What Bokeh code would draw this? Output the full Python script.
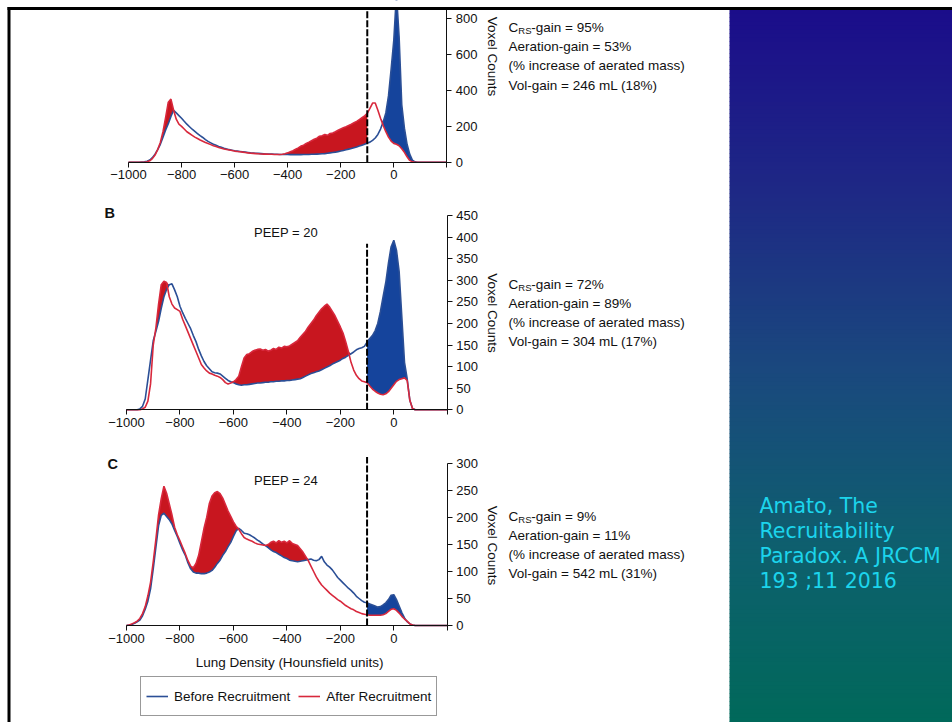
import numpy as np
from bokeh.plotting import figure
from bokeh.models import Range1d, LinearAxis, FixedTicker, Legend, LegendItem
from bokeh.core.properties import value
from bokeh.embed import file_html
from bokeh.resources import INLINE

# ---------------- data (lung density histograms, voxel counts per 10 HU bin) ----------------
hu = list(range(-1000, 201, 10))

before_a = [0, 0, 0, 0, 0, 1, 2, 5, 12, 25,
            45, 70, 100, 140, 180, 215, 255, 290, 275, 260,
            245, 228, 212, 198, 184, 172, 160, 148, 138, 126,
            116, 108, 100, 94, 88, 83, 78, 74, 70, 67,
            64, 62, 60, 58, 56, 54, 52, 51, 50, 49,
            48, 47, 46, 45, 45, 44, 44, 43, 43, 43,
            43, 42, 42, 42, 42, 42, 43, 43, 43, 44,
            44, 45, 46, 47, 48, 50, 52, 54, 56, 59,
            62, 65, 69, 73, 77, 81, 85, 90, 95, 100,
            107, 112, 122, 135, 155, 185, 225, 275, 370, 520,
            680, 940, 700, 320, 190, 100, 45, 12, 2, 0,
            0, 0, 0, 0, 0, 0, 0, 0, 0, 0,
            0]
after_a = [0, 0, 0, 0, 0, 0, 0, 2, 8, 20,
           40, 70, 110, 170, 250, 335, 352, 290, 240, 212,
           200, 185, 170, 160, 150, 140, 132, 124, 117, 110,
           104, 98, 92, 87, 82, 78, 74, 71, 68, 65,
           62, 60, 58, 56, 54, 52, 50, 49, 48, 47,
           46, 45, 45, 44, 44, 43, 43, 43, 44, 47,
           52, 58, 64, 72, 80, 90, 95, 105, 112, 120,
           128, 134, 145, 148, 155, 150, 160, 163, 170, 178,
           185, 192, 198, 205, 212, 220, 228, 238, 248, 258,
           272, 300, 330, 330, 290, 245, 205, 170, 140, 118,
           105, 100, 92, 75, 55, 30, 10, 2, 0, 0,
           0, 0, 0, 0, 0, 0, 0, 0, 0, 0,
           0]
before_b = [0, 0, 0, 0, 0, 2, 8, 25, 70, 115,
            160, 182, 205, 235, 262, 279, 290, 292, 278, 262,
            240, 225, 212, 200, 188, 172, 158, 140, 125, 112,
            102, 95, 88, 86, 85, 83, 78, 73, 68, 65,
            63, 60, 58, 57, 58, 58, 59, 60, 61, 62,
            62, 63, 64, 64, 65, 65, 66, 66, 67, 67,
            68, 68, 69, 70, 71, 72, 75, 78, 81, 84,
            86, 88, 90, 93, 96, 99, 102, 106, 109, 112,
            115, 119, 122, 126, 130, 134, 139, 142, 144, 147,
            157, 165, 172, 183, 200, 228, 262, 295, 340, 378,
            393, 370, 320, 215, 110, 72, 22, 3, 0, 0,
            0, 0, 0, 0, 0, 0, 0, 0, 0, 0,
            0]
after_b = [0, 0, 0, 0, 0, 0, 2, 6, 20, 60,
           150, 190, 245, 290, 298, 295, 262, 245, 236, 232,
           228, 210, 195, 180, 165, 150, 135, 120, 105, 97,
           90, 85, 83, 80, 78, 75, 70, 63, 60, 62,
           65, 70, 78, 100, 120, 128, 130, 135, 138, 140,
           141, 138, 140, 136, 138, 142, 140, 145, 143, 147,
           146, 148, 152, 156, 160, 168, 175, 182, 192, 200,
           208, 218, 226, 234, 240, 245, 238, 228, 218, 205,
           192, 178, 158, 135, 110, 92, 80, 72, 67, 65,
           63, 55, 48, 43, 39, 36, 35, 37, 42, 50,
           58, 66, 70, 72, 74, 68, 22, 3, 0, 0,
           0, 0, 0, 0, 0, 0, 0, 0, 0, 0,
           0]
before_c = [0, 1, 2, 4, 7, 10, 18, 30, 45, 68,
            105, 145, 185, 204, 208, 202, 196, 188, 176, 165,
            152, 140, 130, 116, 105, 99, 97, 97, 96, 96,
            97, 99, 102, 108, 115, 121, 130, 137, 146, 154,
            165, 175, 180, 176, 171, 170, 168, 165, 162, 158,
            155, 151, 148, 144, 140, 137, 135, 132, 129, 126,
            124, 121, 120, 119, 118, 119, 120, 121, 122, 123,
            121, 120, 122, 128, 118, 112, 108, 103, 96, 89,
            84, 79, 74, 69, 65, 60, 54, 50, 46, 43,
            42, 40, 38, 36, 34, 35, 38, 42, 48, 56,
            57, 48, 36, 24, 14, 7, 3, 1, 0, 0,
            0, 0, 0, 0, 0, 0, 0, 0, 0, 0,
            0]
after_c = [0, 1, 3, 5, 8, 13, 22, 35, 55, 80,
           118, 160, 205, 235, 258, 245, 225, 205, 182, 168,
           157, 145, 133, 120, 110, 107, 115, 130, 155, 180,
           200, 226, 240, 246, 248, 244, 236, 224, 212, 202,
           192, 184, 178, 170, 163, 160, 158, 156, 153, 151,
           150, 149, 148, 150, 154, 156, 153, 157, 154, 156,
           153, 157, 152, 150, 148, 142, 136, 128, 120, 110,
           100, 90, 82, 75, 70, 65, 60, 56, 52, 48,
           45, 41, 37, 34, 31, 29, 26, 24, 22, 21,
           20, 19, 19, 19, 19, 19, 20, 22, 26, 30,
           31, 28, 23, 17, 12, 8, 3, 1, 0, 0,
           0, 0, 0, 0, 0, 0, 0, 0, 0, 0,
           0]

threshold_hu = -100
x_ticks = [-1000, -800, -600, -400, -200, 0, 200]
x_tick_labels = ["\u22121000", "\u2212800", "\u2212600", "\u2212400", "\u2212200", "0", ""]
y_ticks_a = [0, 200, 400, 600, 800]
y_ticks_b = [0, 50, 100, 150, 200, 250, 300, 350, 400, 450]
y_ticks_c = [0, 50, 100, 150, 200, 250, 300]
crs_gain = ["95%", "72%", "9%"]
aeration_gain = ["53%", "89%", "11%"]
vol_gain = ["246 mL (18%)", "304 mL (17%)", "542 mL (31%)"]
panel_letters = [None, "B", "C"]
peep_labels = [None, "PEEP = 20", "PEEP = 24"]
legend_labels = ["Before Recruitment", "After Recruitment"]
x_title = "Lung Density  (Hounsfield units)"
y_title = "Voxel Counts"
citation = ["Amato, The", "Recruitability", "Paradox. A JRCCM", "193 ;11 2016"]

# ---------------- styles / layout ----------------
W, H = 952, 722
FONT = "Liberation Sans"
BLUE_LINE = "#2b4f96"
RED_LINE = "#d8283c"
BLUE_FILL = "#15449c"
RED_FILL = "#c8161f"
INK = "#111111"

panels = [
    dict(series=(before_a, after_a), yticks=y_ticks_a, x0=393.3, sx=0.2653, y0=161.7, sy=0.17925,
         ytop=862, dash_top=862, text_y=27.2, voxel_y=56, letter_xy=None, peep_y=None),
    dict(series=(before_b, after_b), yticks=y_ticks_b, x0=393.3, sx=0.2673, y0=409.3, sy=0.4315,
         ytop=450, dash_top=385, text_y=284, voxel_y=312.5, letter_xy=(104, 212.5), peep_y=231.5),
    dict(series=(before_c, after_c), yticks=y_ticks_c, x0=393.3, sx=0.2673, y0=625.0, sy=0.54,
         ytop=300, dash_top=312, text_y=516, voxel_y=545, letter_xy=(107, 463), peep_y=480),
]

p = figure(width=W, height=H, x_range=Range1d(0, W), y_range=Range1d(H, 0),
           x_axis_type=None, y_axis_type=None, toolbar_location=None,
           output_backend="svg", min_border=0, outline_line_color=None,
           background_fill_color="white", border_fill_color="white")
p.min_border_left = p.min_border_right = p.min_border_top = p.min_border_bottom = 0


def txt(x, y, s, size="13.5px", bold=False, align="left", baseline="middle",
        color=INK, angle=0.0, font=FONT):
    p.text(x=[x], y=[y], text=[s], text_font=value(font), text_font_size=size,
           text_font_style="bold" if bold else "normal", text_align=align,
           text_baseline=baseline, text_color=color, angle=angle)


# ---------------- right gradient panel ----------------
stops = [(0.0, (27, 13, 138)), (0.25, (30, 40, 133)), (0.5, (26, 72, 126)),
         (0.75, (14, 95, 110)), (1.0, (0, 105, 90))]


def grad(t):
    for (t0, c0), (t1, c1) in zip(stops[:-1], stops[1:]):
        if t <= t1:
            f = (t - t0) / (t1 - t0)
            return "#%02x%02x%02x" % tuple(int(round(a + (b - a) * f)) for a, b in zip(c0, c1))
    return "#%02x%02x%02x" % stops[-1][1]


band_top = np.arange(9.0, H, 4.0)
band_col = [grad((y - 9.0) / (H - 9.0)) for y in band_top]
p.quad(left=729, right=W, top=band_top, bottom=band_top + 4.6, fill_color=band_col, line_color=None)
for i, line in enumerate(citation):
    txt(759, 505 + 25 * i, line, size="20.5px", color="#1cd4ec", font="DejaVu Sans")

# ---------------- panels ----------------
x_arr = np.array(hu, dtype=float)
legend_renderers = None
for k, (pan, letter, peep, crs, aer, vol) in enumerate(
        zip(panels, panel_letters, peep_labels, crs_gain, aeration_gain, vol_gain)):
    xr, yr = f"x{k}", f"y{k}"
    x0, sx, y0, sy = pan["x0"], pan["sx"], pan["y0"], pan["sy"]
    p.extra_x_ranges[xr] = Range1d(-x0 / sx, (W - x0) / sx)
    p.extra_y_ranges[yr] = Range1d((y0 - H) / sy, y0 / sy)
    kw = dict(x_range_name=xr, y_range_name=yr)

    b = np.array(pan["series"][0], dtype=float)
    a = np.array(pan["series"][1], dtype=float)
    top = np.maximum(a, b)
    gain = x_arr <= threshold_hu
    loss = x_arr >= threshold_hu
    p.varea(x=x_arr[gain], y1=b[gain], y2=top[gain], fill_color=RED_FILL, **kw)
    p.varea(x=x_arr[loss], y1=a[loss], y2=top[loss], fill_color=BLUE_FILL, **kw)
    rb = p.line(x_arr, b, line_color=BLUE_LINE, line_width=1.6, **kw)
    ra = p.line(x_arr, a, line_color=RED_LINE, line_width=1.6, **kw)
    if legend_renderers is None:
        legend_renderers = (rb, ra)

    p.segment(x0=[threshold_hu], y0=[0], x1=[threshold_hu], y1=[pan["dash_top"]],
              line_color="black", line_width=2, line_dash="7 2", **kw)

    xa = LinearAxis(fixed_location=0, bounds=(x_ticks[0], x_ticks[-1]),
                    ticker=FixedTicker(ticks=x_ticks),
                    major_label_overrides=dict(zip(x_ticks, x_tick_labels)), **kw)
    ya = LinearAxis(fixed_location=x_ticks[-1], bounds=(0, pan["ytop"]),
                    ticker=FixedTicker(ticks=pan["yticks"]), **kw)
    for ax in (xa, ya):
        ax.axis_line_color = INK
        ax.axis_line_width = 1
        ax.major_tick_line_color = INK
        ax.major_tick_out = 5
        ax.major_tick_in = 0
        ax.minor_tick_line_color = None
        ax.major_label_text_font = FONT
        ax.major_label_text_font_size = "13px"
        ax.major_label_text_color = INK
    xa.major_label_standoff = 3
    ya.major_label_standoff = 4
    p.add_layout(xa, "below")
    p.add_layout(ya, "right")

    # texts
    txt(492, pan["voxel_y"], y_title, size="13.5px", align="center", angle=-np.pi / 2)
    bx, ty = 508, pan["text_y"]
    txt(bx, ty, "C")
    txt(bx + 9.8, ty + 3, "RS", size="9.5px")
    txt(bx + 22.8, ty, "-gain = " + crs)
    txt(bx, ty + 19.1, "Aeration-gain = " + aer)
    txt(bx, ty + 38.2, "(% increase of aerated mass)")
    txt(bx, ty + 57.3, "Vol-gain = " + vol)
    if letter:
        txt(pan["letter_xy"][0], pan["letter_xy"][1], letter, size="14.5px", bold=True)
    if peep:
        txt(285.5, pan["peep_y"], peep, size="13px", align="center")

txt(291, 662, x_title, size="13.5px", align="center")

# legend
legend = Legend(items=[LegendItem(label=legend_labels[0], renderers=[legend_renderers[0]]),
                       LegendItem(label=legend_labels[1], renderers=[legend_renderers[1]])],
                location=(140, 6), orientation="horizontal", padding=5, spacing=8,
                glyph_width=22, glyph_height=28, label_standoff=6, margin=0,
                label_text_font=FONT, label_text_font_size="13.5px", label_text_color=INK,
                border_line_color="#333333", border_line_width=1,
                background_fill_color="white", background_fill_alpha=1.0)
p.add_layout(legend)

# frame of the cropped figure: white strip on top, black border lines
p.quad(left=0, right=W, top=0, bottom=6.5, fill_color="white", line_color=None, level="overlay")
p.quad(left=7, right=W, top=6.5, bottom=9.5, fill_color="black", line_color=None, level="overlay")
p.quad(left=7, right=10, top=6.5, bottom=H, fill_color="black", line_color=None, level="overlay")

open("out.html", "w").write(file_html(p, INLINE))
